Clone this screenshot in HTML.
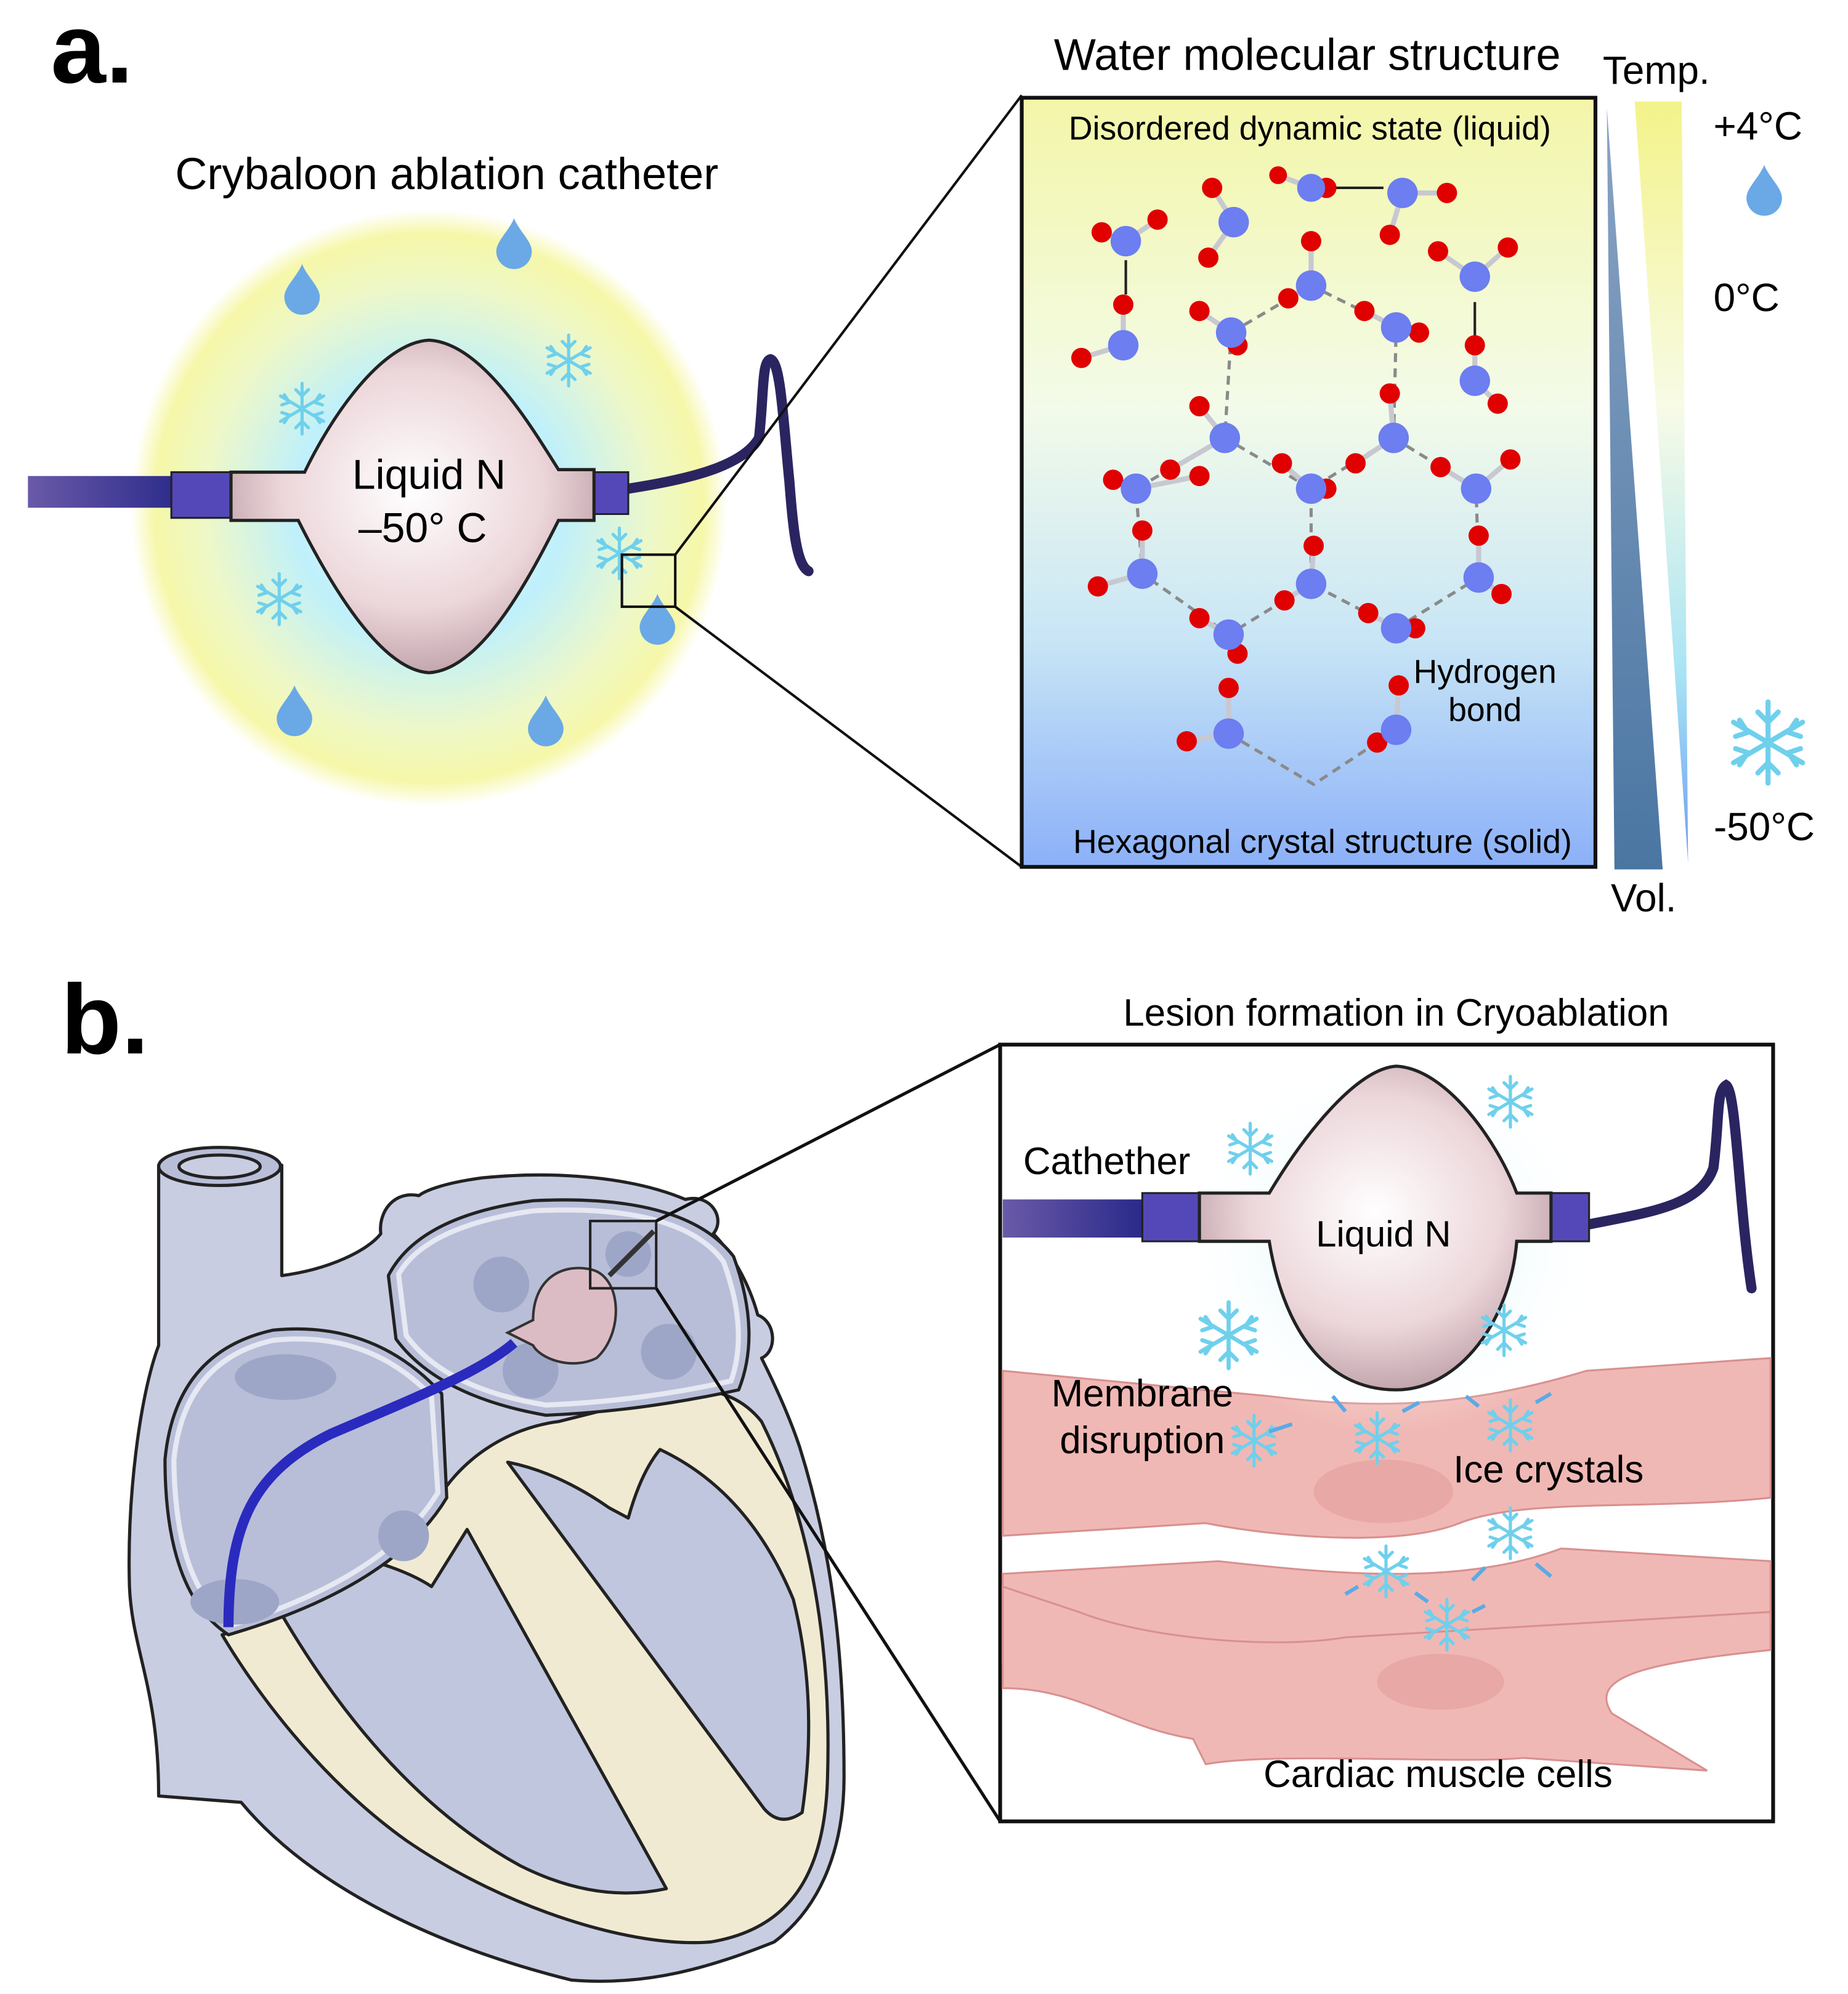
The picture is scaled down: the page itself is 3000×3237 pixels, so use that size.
<!DOCTYPE html>
<html><head><meta charset="utf-8"><style>html,body{margin:0;padding:0;background:#fff}svg{display:block}text{font-family:"Liberation Sans",sans-serif}</style></head>
<body>
<svg width="3000" height="3237" viewBox="0 0 1456 1571" xmlns="http://www.w3.org/2000/svg">
<defs>
<radialGradient id="glow" cx="0.5" cy="0.5" r="0.5">
<stop offset="0" stop-color="#ffffff"/><stop offset="0.45" stop-color="#bff0fb"/><stop offset="0.75" stop-color="#eef8c8"/><stop offset="0.92" stop-color="#f6f7a8"/><stop offset="1" stop-color="#ffffff"/></radialGradient>
<radialGradient id="bal" cx="0.5" cy="0.45" r="0.6"><stop offset="0" stop-color="#ffffff"/><stop offset="0.6" stop-color="#ecd6da"/><stop offset="1" stop-color="#b89aa2"/></radialGradient>
<linearGradient id="box" x1="0" y1="0" x2="0" y2="1"><stop offset="0" stop-color="#f3f6a8"/><stop offset="0.4" stop-color="#f3fbe9"/><stop offset="0.7" stop-color="#c9e6f6"/><stop offset="1" stop-color="#8bb0f8"/></linearGradient>
<linearGradient id="temp" x1="0" y1="0" x2="0" y2="1"><stop offset="0" stop-color="#f3f38a"/><stop offset="0.4" stop-color="#f8fbe6"/><stop offset="0.75" stop-color="#a8e4f4"/><stop offset="1" stop-color="#6e9cf2"/></linearGradient>
<linearGradient id="vol" x1="0" y1="0" x2="0" y2="1"><stop offset="0" stop-color="#8aa3c4"/><stop offset="1" stop-color="#4a76a2"/></linearGradient>
<linearGradient id="tube" x1="0" y1="0" x2="1" y2="0"><stop offset="0" stop-color="#6a5aa8"/><stop offset="1" stop-color="#2a2a8a"/></linearGradient>
<radialGradient id="glow2" cx="0.5" cy="0.5" r="0.5"><stop offset="0" stop-color="#c8f0fb"/><stop offset="1" stop-color="#ffffff" stop-opacity="0"/></radialGradient>
<g id="flake" stroke="#6fd0ec" stroke-width="2.5" fill="none" stroke-linecap="round">
<path d="M0-20V20M-17-10L17 10M-17 10L17-10M-5-15L0-10L5-15M-5 15L0 10L5 15M-16-3L-10-5L-14-11M16 3L10 5L14 11M16-3L10-5L14-11M-16 3L-10 5L-14 11"/></g>
<path id="drop" d="M0-20C-4-10-14 -2-14 6A14 14 0 0 0 14 6C14-2 4-10 0-20Z" fill="#6aa9e6"/>
</defs>

<!-- Panel a -->
<text x="40" y="65" font-size="78" font-weight="bold">a.</text>
<text x="352" y="149" font-size="35" text-anchor="middle">Crybaloon ablation catheter</text>
<circle cx="338" cy="400" r="235" fill="url(#glow)"/>
<use href="#drop" x="405" y="192"/><use href="#drop" x="238" y="228"/>
<use href="#drop" x="232" y="560"/><use href="#drop" x="430" y="568"/><use href="#drop" x="518" y="488"/>
<use href="#flake" x="238" y="322"/><use href="#flake" x="448" y="284"/><use href="#flake" x="220" y="472"/><use href="#flake" x="488" y="436"/>
<path d="M22 375H145V400H22Z" fill="url(#tube)"/>
<path d="M135 372H182V408H135Z" fill="#5448b8" stroke="#222" stroke-width="1.5"/>
<path d="M495 385C540 378 585 368 598 345C602 310 600 285 607 283C615 285 617 330 622 380C625 420 628 445 637 450" fill="none" stroke="#2a2560" stroke-width="8" stroke-linecap="round"/>
<path d="M495 372H468V405H495Z" fill="#5448b8" stroke="#222" stroke-width="1.5"/>
<path d="M182 372H240C260 330 300 270 338 268C378 270 415 330 440 370H468V410H440C415 460 378 528 338 530C300 528 260 460 235 410H182Z" fill="url(#bal)" stroke="#222" stroke-width="2.5"/>
<text x="338" y="385" font-size="33" text-anchor="middle">Liquid N</text>
<text x="333" y="427" font-size="33" text-anchor="middle">–50° C</text>
<rect x="490" y="437" width="42" height="41" fill="none" stroke="#111" stroke-width="2"/>
<line x1="532" y1="437" x2="805" y2="75" stroke="#111" stroke-width="2"/>
<line x1="532" y1="478" x2="805" y2="683" stroke="#111" stroke-width="2"/>

<text x="1030" y="55" font-size="35" text-anchor="middle">Water molecular structure</text>
<rect x="805" y="77" width="452" height="606" fill="url(#box)" stroke="#111" stroke-width="3"/>
<text x="1032" y="110" font-size="26" text-anchor="middle">Disordered dynamic state (liquid)</text>
<text x="1042" y="672" font-size="26" text-anchor="middle">Hexagonal crystal structure (solid)</text>
<text x="1170" y="538" font-size="26" text-anchor="middle">Hydrogen</text>
<text x="1170" y="568" font-size="26" text-anchor="middle">bond</text>
<g stroke="#8a8a8a" stroke-width="2.5" stroke-dasharray="7 5" fill="none">
<path d="M970 262L1033 225L1100 258L1098 345L1033 385L965 345Z"/>
<path d="M965 345L895 385L900 452L968 500L1033 460L1033 385"/>
<path d="M1098 345L1163 385L1165 455L1100 495L1033 460"/>
<path d="M968 578L1035 618L1100 575"/>
</g>
<g stroke="#222" stroke-width="2"><path d="M887 205V232M1045 148H1090M1162 238V268"/></g>
<g stroke="#c8c8d0" stroke-width="4">
<path d="M887 190L868 183M887 190L912 173M972 175L955 148M972 175L952 203M1033 148L1007 138M1105 152L1140 152M1105 152L1095 185M1162 218L1133 198M1162 218L1188 195M885 272L885 240M885 272L852 282M970 262L945 245M970 262L975 272M1033 225L1033 190M1033 225L1015 235M1100 258L1075 245M1100 258L1118 262M1162 300L1162 272M1162 300L1180 318M965 345L945 320M965 345L922 370M1098 345L1095 310M1098 345L1068 365M895 385L877 378M895 385L945 375M1033 385L1010 365M1033 385L1045 385M1163 385L1135 368M1163 385L1190 362M900 452L900 418M900 452L865 462M1033 460L1035 430M1033 460L1012 473M1165 455L1165 422M1165 455L1183 468M968 500L945 487M968 500L975 515M1100 495L1078 483M1100 495L1115 495M968 578L968 542M968 578L935 584M1100 575L1102 540M1100 575L1085 585"/></g>
<g fill="#e00000">
<circle cx="868" cy="183" r="8"/><circle cx="912" cy="173" r="8"/><circle cx="955" cy="148" r="8"/><circle cx="952" cy="203" r="8"/>
<circle cx="1007" cy="138" r="7"/><circle cx="1045" cy="148" r="8"/><circle cx="1140" cy="152" r="8"/><circle cx="1095" cy="185" r="8"/>
<circle cx="1133" cy="198" r="8"/><circle cx="1188" cy="195" r="8"/><circle cx="885" cy="240" r="8"/><circle cx="852" cy="282" r="8"/>
<circle cx="945" cy="245" r="8"/><circle cx="975" cy="272" r="8"/><circle cx="1033" cy="190" r="8"/><circle cx="1015" cy="235" r="8"/>
<circle cx="1075" cy="245" r="8"/><circle cx="1118" cy="262" r="8"/><circle cx="1162" cy="272" r="8"/><circle cx="1180" cy="318" r="8"/>
<circle cx="945" cy="320" r="8"/><circle cx="922" cy="370" r="8"/><circle cx="1095" cy="310" r="8"/><circle cx="1068" cy="365" r="8"/>
<circle cx="877" cy="378" r="8"/><circle cx="945" cy="375" r="8"/><circle cx="1010" cy="365" r="8"/><circle cx="1045" cy="385" r="8"/>
<circle cx="1135" cy="368" r="8"/><circle cx="1190" cy="362" r="8"/><circle cx="900" cy="418" r="8"/><circle cx="865" cy="462" r="8"/>
<circle cx="1035" cy="430" r="8"/><circle cx="1012" cy="473" r="8"/><circle cx="1165" cy="422" r="8"/><circle cx="1183" cy="468" r="8"/>
<circle cx="945" cy="487" r="8"/><circle cx="975" cy="515" r="8"/><circle cx="1078" cy="483" r="8"/><circle cx="1115" cy="495" r="8"/>
<circle cx="968" cy="542" r="8"/><circle cx="935" cy="584" r="8"/><circle cx="1102" cy="540" r="8"/><circle cx="1085" cy="585" r="8"/>
</g>
<g fill="#6c7ef0">
<circle cx="887" cy="190" r="12"/><circle cx="972" cy="175" r="12"/><circle cx="1033" cy="148" r="11"/><circle cx="1105" cy="152" r="12"/>
<circle cx="1162" cy="218" r="12"/><circle cx="885" cy="272" r="12"/><circle cx="970" cy="262" r="12"/><circle cx="1033" cy="225" r="12"/>
<circle cx="1100" cy="258" r="12"/><circle cx="1162" cy="300" r="12"/><circle cx="965" cy="345" r="12"/><circle cx="1098" cy="345" r="12"/><circle cx="895" cy="385" r="12"/>
<circle cx="1033" cy="385" r="12"/><circle cx="1163" cy="385" r="12"/><circle cx="900" cy="452" r="12"/><circle cx="1033" cy="460" r="12"/>
<circle cx="1165" cy="455" r="12"/><circle cx="968" cy="500" r="12"/><circle cx="1100" cy="495" r="12"/><circle cx="968" cy="578" r="12"/><circle cx="1100" cy="575" r="12"/>
</g>
<text x="1305" y="66" font-size="31" text-anchor="middle">Temp.</text>
<path d="M1266 85L1272 685H1310Z" fill="url(#vol)"/>
<path d="M1288 80H1325L1330 680Z" fill="url(#temp)"/>
<text x="1295" y="718" font-size="31" text-anchor="middle">Vol.</text>
<text x="1385" y="110" font-size="31" text-anchor="middle">+4°C</text>
<use href="#drop" x="1390" y="150"/>
<text x="1376" y="245" font-size="31" text-anchor="middle">0°C</text>
<g transform="translate(1393 585) scale(1.6)"><use href="#flake"/></g>
<text x="1390" y="662" font-size="31" text-anchor="middle">-50°C</text>

<!-- Panel b -->
<text x="48" y="830" font-size="78" font-weight="bold">b.</text>
<text x="1100" y="808" font-size="30" text-anchor="middle">Lesion formation in Cryoablation</text>

<!-- heart -->
<g stroke="#222" stroke-width="2.5" stroke-linejoin="round">
<path d="M125 918V1060C110 1100 100 1180 102 1250C104 1300 125 1330 125 1415L190 1420C240 1480 330 1530 450 1560C510 1565 560 1550 610 1530C650 1500 665 1450 665 1400C665 1300 655 1220 630 1140C620 1110 605 1080 600 1070C612 1065 612 1042 597 1036C590 1010 575 985 562 972C572 960 560 940 540 945C500 928 440 922 380 928C350 932 335 938 330 942C310 938 298 955 300 972C290 985 260 1000 222 1005V918Z" fill="#c8cde2"/>
<ellipse cx="173" cy="919" rx="48" ry="15" fill="#b8bed8"/>
<ellipse cx="173" cy="919" rx="32" ry="9" fill="#c8cde2"/>
<path d="M175 1288C200 1330 250 1400 320 1450C400 1505 500 1535 560 1530C620 1520 650 1480 652 1400C655 1300 640 1200 600 1120C580 1095 550 1090 520 1100L440 1120C400 1125 360 1150 340 1190C300 1240 240 1270 175 1288Z" fill="#f1ead2"/>
<path d="M215 1245L300 1232Q325 1240 340 1250L368 1205L525 1488Q470 1500 410 1470Q300 1410 215 1260Z" fill="#c0c6de"/>
<path d="M400 1152Q440 1160 480 1188L495 1196Q505 1160 520 1142Q590 1175 625 1260Q645 1340 632 1428Q615 1440 602 1425Z" fill="#c0c6de"/>
<path d="M130 1150Q138 1065 215 1048Q295 1040 348 1098L352 1180Q310 1250 180 1288Q130 1255 130 1150Z" fill="#b8bed8"/>
<path d="M306 1005Q330 958 420 946Q540 940 578 990Q600 1050 582 1095Q505 1112 430 1115Q345 1100 312 1055Z" fill="#b8bed8"/>
</g>
<g fill="none" stroke="#e6e8f2" stroke-width="4"><path d="M137 1150Q145 1072 215 1056Q290 1048 340 1100L345 1176Q305 1242 184 1280Q138 1252 137 1150Z"/><path d="M314 1004Q336 966 420 954Q536 948 570 994Q590 1048 576 1088Q505 1104 430 1107Q350 1094 320 1052Z"/></g>
<g fill="#9ea6c8"><circle cx="395" cy="1012" r="22"/><circle cx="418" cy="1080" r="22"/><circle cx="527" cy="1065" r="22"/><circle cx="318" cy="1210" r="20"/><ellipse cx="185" cy="1262" rx="35" ry="18"/><circle cx="495" cy="988" r="18"/><ellipse cx="225" cy="1085" rx="40" ry="18"/></g>
<path d="M180 1282C180 1200 200 1160 260 1130C330 1100 380 1080 405 1058" fill="none" stroke="#2a2abf" stroke-width="8"/>
<path d="M400 1050L420 1040C420 1010 440 995 465 1000C490 1005 492 1050 470 1070C450 1080 425 1070 420 1060Z" fill="#dcbcc4" stroke="#333" stroke-width="2"/>
<path d="M480 1005L500 985L515 970" stroke="#333" stroke-width="4" fill="none"/>
<rect x="465" y="962" width="52" height="53" fill="none" stroke="#222" stroke-width="2"/>
<line x1="517" y1="962" x2="788" y2="823" stroke="#111" stroke-width="2.5"/>
<line x1="517" y1="1015" x2="788" y2="1435" stroke="#111" stroke-width="2.5"/>

<!-- zoom box b -->
<rect x="788" y="823" width="609" height="612" fill="#fff" stroke="#111" stroke-width="3"/>
<g fill="#f0b8b4" stroke="#d89090" stroke-width="1.5">
<path d="M790 1080L1000 1100C1080 1110 1150 1110 1250 1080L1395 1070V1180C1300 1190 1200 1180 1150 1200C1100 1220 1000 1210 950 1200L790 1210Z"/>
<path d="M790 1240L960 1230C1050 1240 1150 1250 1230 1220L1395 1230V1280C1300 1270 1250 1300 1200 1300L790 1310Z"/>
<path d="M790 1250L850 1270C900 1290 1000 1300 1060 1290L1395 1270V1300C1300 1310 1250 1320 1270 1350L1345 1395L1200 1385C1150 1390 1000 1380 950 1390L940 1370C880 1360 850 1330 790 1330Z"/>
</g>
<ellipse cx="1090" cy="1175" rx="55" ry="25" fill="#e8a8a6"/><ellipse cx="1135" cy="1325" rx="50" ry="22" fill="#e8a8a6"/>
<ellipse cx="1095" cy="980" rx="170" ry="150" fill="url(#glow2)"/>
<path d="M790 945H900V975H790Z" fill="url(#tube)"/>
<path d="M900 940H945V978H900Z" fill="#5448b8" stroke="#222" stroke-width="1.5"/>
<path d="M1250 965C1300 955 1340 950 1350 920C1355 880 1352 860 1360 855C1368 860 1370 950 1380 1015" fill="none" stroke="#2a2560" stroke-width="8" stroke-linecap="round"/>
<path d="M1222 940H1252V978H1222Z" fill="#5448b8" stroke="#222" stroke-width="1.5"/>
<path d="M945 940H1000C1030 890 1070 842 1100 840C1140 842 1180 900 1195 940H1222V978H1195C1190 1040 1150 1095 1100 1095C1040 1095 1010 1040 1000 978H945Z" fill="url(#bal)" stroke="#222" stroke-width="2.5"/>
<text x="1090" y="982" font-size="29" text-anchor="middle">Liquid N</text>
<text x="872" y="925" font-size="30" text-anchor="middle">Cathether</text>
<text x="900" y="1108" font-size="30" text-anchor="middle">Membrane</text>
<text x="900" y="1145" font-size="30" text-anchor="middle">disruption</text>
<text x="1220" y="1168" font-size="30" text-anchor="middle">Ice crystals</text>
<text x="1133" y="1408" font-size="30" text-anchor="middle">Cardiac muscle cells</text>
<use href="#flake" x="985" y="905"/><use href="#flake" x="1190" y="868"/>
<g transform="translate(968 1052) scale(1.3)"><use href="#flake"/></g>
<use href="#flake" x="1185" y="1048"/><use href="#flake" x="988" y="1135"/><use href="#flake" x="1085" y="1133"/>
<use href="#flake" x="1190" y="1123"/><use href="#flake" x="1190" y="1208"/><use href="#flake" x="1092" y="1238"/><use href="#flake" x="1140" y="1280"/>
<g stroke="#5aaae6" stroke-width="3" fill="none"><path d="M1000 1128L1018 1122M1060 1112L1050 1100M1105 1112L1118 1105M1165 1108L1155 1100M1210 1105L1222 1098M1170 1235L1160 1245M1210 1232L1222 1242M1070 1250L1060 1256M1115 1255L1125 1262M1160 1270L1170 1265"/></g>
</svg>
</body></html>
